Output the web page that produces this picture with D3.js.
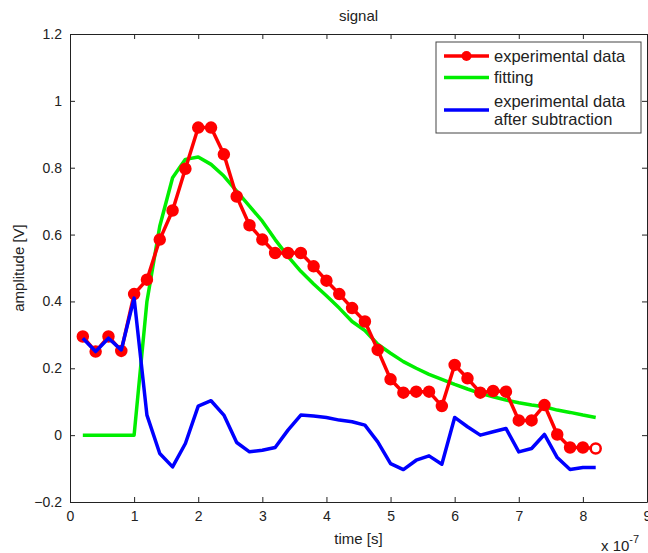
<!DOCTYPE html>
<html lang="en">
<head>
<meta charset="UTF-8">
<title>signal</title>
<style>
  body { margin: 0; background: #fff; }
  svg text { font-family: "Liberation Sans", Arial, sans-serif; fill: #222; }
  .line { fill: none; stroke-linejoin: round; }
  .axis path, .axis line { stroke: #222; }
</style>
</head>
<body>
<svg width="648" height="553"></svg>
<script src="https://cdn.jsdelivr.net/npm/d3@7"></script>
<script>
// time in units of 1e-7 s
var time = [0.2, 0.4, 0.6, 0.8, 1.0, 1.2, 1.4, 1.6, 1.8, 2.0, 2.2, 2.4, 2.6, 2.8, 3.0, 3.2, 3.4, 3.6, 3.8, 4.0,
            4.2, 4.4, 4.6, 4.8, 5.0, 5.2, 5.4, 5.6, 5.8, 6.0, 6.2, 6.4, 6.6, 6.8, 7.0, 7.2, 7.4, 7.6, 7.8, 8.0, 8.2];

var experimental = [0.295, 0.25, 0.295, 0.252, 0.422, 0.465, 0.585, 0.672, 0.797, 0.92, 0.92, 0.84, 0.714, 0.628,
                    0.585, 0.545, 0.545, 0.545, 0.505, 0.462, 0.422, 0.38, 0.34, 0.255, 0.167, 0.127, 0.13, 0.13,
                    0.087, 0.21, 0.17, 0.127, 0.132, 0.13, 0.044, 0.044, 0.09, 0.002, -0.037, -0.037, -0.04];

var fitting = [0, 0, 0, 0, 0, 0.40, 0.625, 0.77, 0.825, 0.832, 0.81, 0.775, 0.73, 0.685, 0.64, 0.585, 0.535,
               0.49, 0.452, 0.417, 0.38, 0.34, 0.313, 0.272, 0.245, 0.22, 0.2, 0.182, 0.167, 0.152, 0.138, 0.125,
               0.115, 0.105, 0.097, 0.09, 0.085, 0.075, 0.068, 0.06, 0.053];

var subtracted = [0.29, 0.25, 0.29, 0.255, 0.41, 0.06, -0.055, -0.095, -0.025, 0.087, 0.103, 0.06, -0.022, -0.05,
                  -0.045, -0.037, 0.015, 0.06, 0.057, 0.053, 0.045, 0.04, 0.03, -0.02, -0.085, -0.103, -0.075,
                  -0.062, -0.087, 0.053, 0.025, 0.0, 0.01, 0.02, -0.05, -0.04, 0.002, -0.067, -0.103, -0.097, -0.097];

var xTicks = [0, 1, 2, 3, 4, 5, 6, 7, 8, 9];
var yTicks = [-0.2, 0, 0.2, 0.4, 0.6, 0.8, 1, 1.2];
var legendLabels = [["experimental data"], ["fitting"], ["experimental data", "after subtraction"]];
var colors = ["#ff0000", "#00ee00", "#0000ff"];

var svg = d3.select("svg"),
    margin = {top: 34, right: 1, bottom: 51, left: 70},
    width = svg.attr("width") - margin.left - margin.right,
    height = svg.attr("height") - margin.top - margin.bottom,
    g = svg.append("g").attr("transform", "translate(" + margin.left + "," + margin.top + ")");

var x = d3.scaleLinear().domain([0, 9]).range([0, width]),
    y = d3.scaleLinear().domain([-0.2, 1.2]).range([height, 0]);

var line = d3.line()
  .x(function(d) { return x(d.t); })
  .y(function(d) { return y(d.v); });

function pts(vals) {
  return vals.map(function(v, i) { return {t: time[i], v: v}; });
}

// axes: ticks inward on all four sides
var fmt = function(d) { return d3.format("")(+d.toFixed(1)); };
g.append("g").attr("class", "axis")
  .attr("transform", "translate(0," + height + ")")
  .call(d3.axisBottom(x).tickValues(xTicks).tickSizeInner(-5).tickSizeOuter(0).tickPadding(9).tickFormat(fmt))
  .call(function(s) { s.selectAll("text").attr("font-size", 14); });
g.append("g").attr("class", "axis")
  .call(d3.axisTop(x).tickValues(xTicks).tickSizeInner(-5).tickSizeOuter(0).tickFormat(""));
g.append("g").attr("class", "axis")
  .call(d3.axisLeft(y).tickValues(yTicks).tickSizeInner(-5).tickSizeOuter(0).tickPadding(8).tickFormat(fmt))
  .call(function(s) { s.selectAll("text").attr("font-size", 14); });
g.append("g").attr("class", "axis")
  .attr("transform", "translate(" + width + ",0)")
  .call(d3.axisRight(y).tickValues(yTicks).tickSizeInner(-5).tickSizeOuter(0).tickFormat(""));
svg.selectAll(".axis .domain").attr("stroke", "#222");

// series
g.append("path").attr("class", "line")
  .attr("d", line(pts(fitting)))
  .attr("stroke", colors[1]).attr("stroke-width", 3.5);

g.append("path").attr("class", "line")
  .attr("d", line(pts(experimental)))
  .attr("stroke", colors[0]).attr("stroke-width", 3.5);

g.selectAll(".marker")
  .data(pts(experimental))
  .enter().append("circle")
    .attr("class", "marker")
    .attr("cx", function(d) { return x(d.t); })
    .attr("cy", function(d) { return y(d.v); })
    .attr("r", 5)
    .attr("fill", function(d, i) { return i === experimental.length - 1 ? "#fff" : colors[0]; })
    .attr("stroke", colors[0]).attr("stroke-width", 2.5);

g.append("path").attr("class", "line")
  .attr("d", line(pts(subtracted)))
  .attr("stroke", colors[2]).attr("stroke-width", 3.5);

// labels
svg.append("text")
  .attr("x", margin.left + width / 2).attr("y", 21)
  .attr("text-anchor", "middle").attr("font-size", 15)
  .text("signal");

svg.append("text")
  .attr("x", margin.left + width / 2).attr("y", 544)
  .attr("text-anchor", "middle").attr("font-size", 15)
  .text("time [s]");

svg.append("text")
  .attr("transform", "translate(24," + (margin.top + y(0.5)) + ") rotate(-90)")
  .attr("text-anchor", "middle").attr("font-size", 15)
  .text("amplitude [V]");

var expo = svg.append("text")
  .attr("x", 601).attr("y", 551).attr("font-size", 15);
expo.append("tspan").text("x 10");
expo.append("tspan").attr("dy", -8).attr("font-size", 11).text("-7");

// legend
var legend = svg.append("g").attr("transform", "translate(436,42)");
legend.append("rect")
  .attr("width", 205).attr("height", 91)
  .attr("fill", "#fff").attr("stroke", "#444").attr("stroke-width", 1);

var rowsY = [14, 35.5, 68];
legendLabels.forEach(function(lines, i) {
  var row = legend.append("g").attr("transform", "translate(0," + rowsY[i] + ")");
  row.append("line")
    .attr("x1", 8).attr("x2", 53)
    .attr("stroke", colors[i]).attr("stroke-width", 3.5);
  if (i === 0) {
    row.append("circle").attr("cx", 30.5).attr("r", 5).attr("fill", colors[0]);
  }
  var t = row.append("text")
    .attr("x", 58).attr("font-size", 16.5)
    .attr("y", lines.length > 1 ? -9 : 0)
    .attr("dy", "0.35em");
  lines.forEach(function(s, j) {
    t.append("tspan").attr("x", 58).attr("dy", j === 0 ? "0.35em" : 18.5).text(s);
  });
});
</script>
</body>
</html>
